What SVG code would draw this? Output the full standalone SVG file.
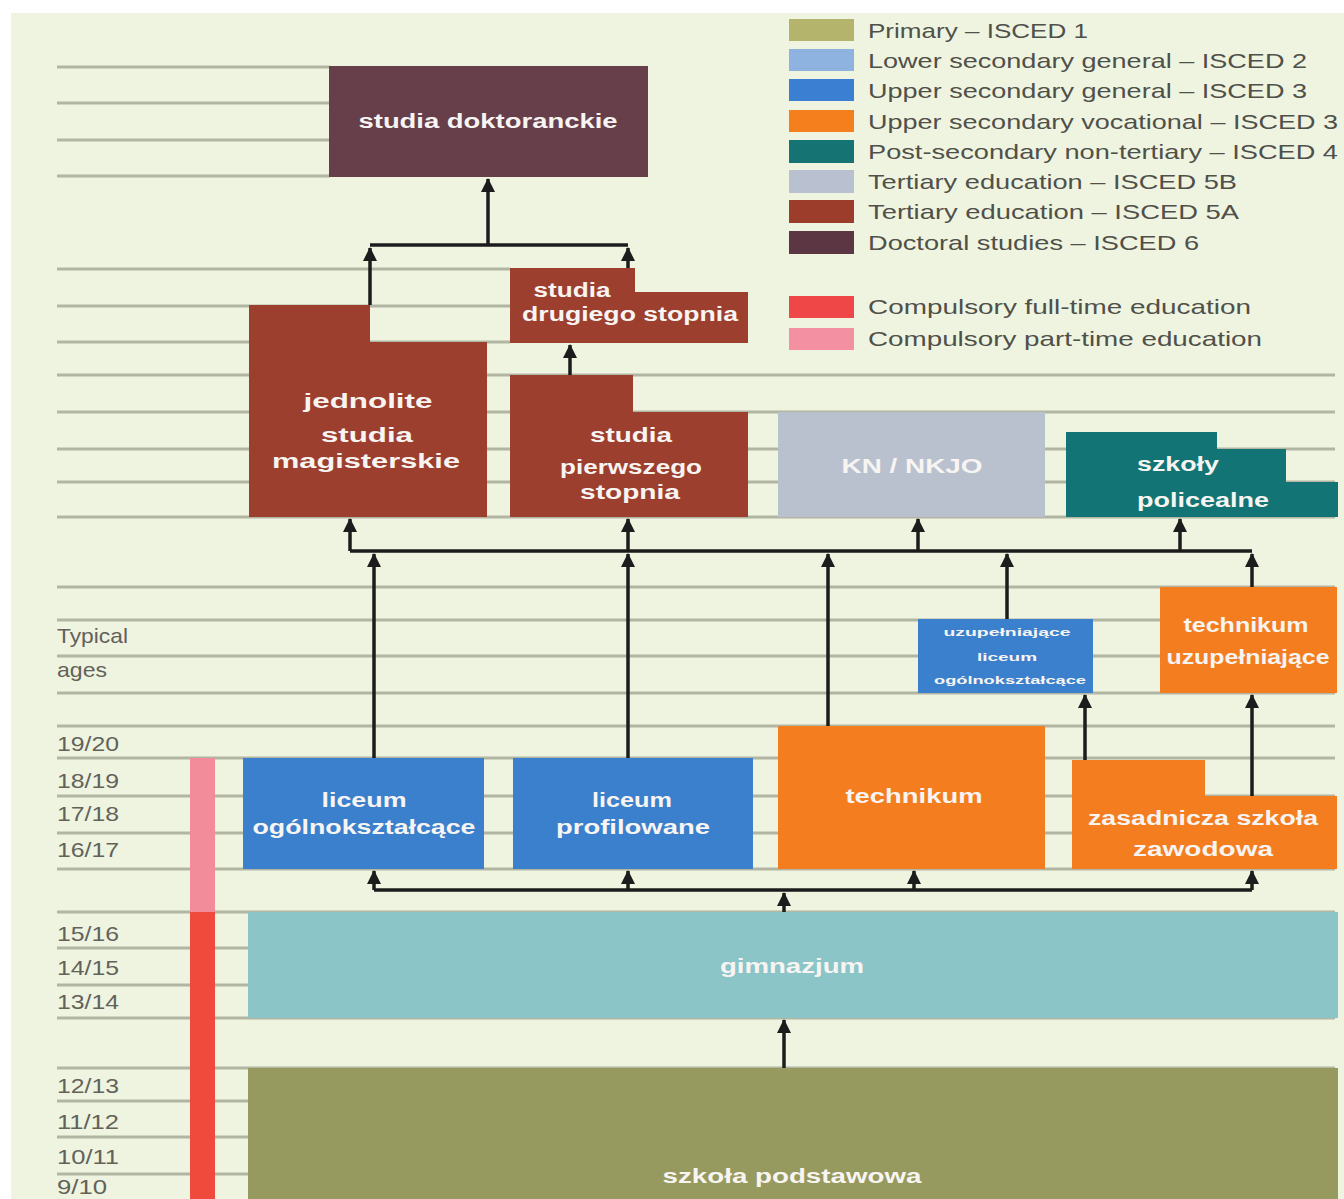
<svg xmlns="http://www.w3.org/2000/svg" width="1344" height="1199" viewBox="0 0 1344 1199">
<style>
.grid{stroke:#b2b5a2;stroke-width:3;fill:none}
.conn{stroke:#1c1c1c;stroke-width:3.5;fill:none}
.arr{marker-end:url(#ah)}
.nt{font-family:"Liberation Sans",Arial,sans-serif;font-weight:bold;font-size:20px;fill:#f7f4f2;text-anchor:middle}
.sm{font-size:11px}
.lg{font-family:"Liberation Sans",Arial,sans-serif;font-size:21px;fill:#50504a}
.age{font-family:"Liberation Sans",Arial,sans-serif;font-size:21px;fill:#62625a}
.t5a{fill:#9d3f2e}
.gen{fill:#3b80cd}
.voc{fill:#f47d1f}
</style>
<defs>
<marker id="ah" markerUnits="userSpaceOnUse" markerWidth="14" markerHeight="14" refX="13" refY="7" orient="auto">
<path d="M0,0 L14,7 L0,14 z" fill="#1c1c1c"/>
</marker>
</defs>
<rect x="0" y="0" width="1344" height="1199" fill="#ffffff"/>
<rect x="11" y="13" width="1333" height="1186" fill="#eff4e0"/>

<g id="grid">
<path class="grid" d="M57,67H330M57,103H330M57,140H330M57,176H330"/>
<path class="grid" d="M57,269H510M57,306H510M57,342H510"/>
<path class="grid" d="M57,375H1335M57,412H1335M57,449H1335M57,482H1335M57,517H1335"/>
<path class="grid" d="M57,587H1335M57,620H1335M57,656H1335M57,693H1335M57,726H1335M57,758H1335M57,796H1335M57,833H1335M57,869H1335"/>
<path class="grid" d="M57,912H1335M57,948H1335M57,985H1335M57,1018H1335M57,1068H1335M57,1101H1335M57,1137H1335M57,1174H1335"/>
</g>

<g id="compulsory-bars">
<rect x="190" y="758" width="25" height="154" fill="#f28c9a"/>
<rect x="190" y="912" width="25" height="287" fill="#f04a3c"/>
</g>

<g id="ages">
<text class="age" x="57" y="643" textLength="71" lengthAdjust="spacingAndGlyphs">Typical</text>
<text class="age" x="57" y="677" textLength="50" lengthAdjust="spacingAndGlyphs">ages</text>
<text class="age" x="57" y="751" textLength="62" lengthAdjust="spacingAndGlyphs">19/20</text>
<text class="age" x="57" y="788" textLength="62" lengthAdjust="spacingAndGlyphs">18/19</text>
<text class="age" x="57" y="821" textLength="62" lengthAdjust="spacingAndGlyphs">17/18</text>
<text class="age" x="57" y="857" textLength="62" lengthAdjust="spacingAndGlyphs">16/17</text>
<text class="age" x="57" y="941" textLength="62" lengthAdjust="spacingAndGlyphs">15/16</text>
<text class="age" x="57" y="975" textLength="62" lengthAdjust="spacingAndGlyphs">14/15</text>
<text class="age" x="57" y="1009" textLength="62" lengthAdjust="spacingAndGlyphs">13/14</text>
<text class="age" x="57" y="1093" textLength="62" lengthAdjust="spacingAndGlyphs">12/13</text>
<text class="age" x="57" y="1129" textLength="62" lengthAdjust="spacingAndGlyphs">11/12</text>
<text class="age" x="57" y="1164" textLength="62" lengthAdjust="spacingAndGlyphs">10/11</text>
<text class="age" x="57" y="1194" textLength="50" lengthAdjust="spacingAndGlyphs">9/10</text>
</g>

<g id="legend">
<rect x="789" y="19" width="65" height="22" fill="#b4b46c"/>
<rect x="789" y="49" width="65" height="22" fill="#8fb3e1"/>
<rect x="789" y="79" width="65" height="22" fill="#3a7fd2"/>
<rect x="789" y="110" width="65" height="22" fill="#f57f1c"/>
<rect x="789" y="140" width="65" height="23" fill="#157373"/>
<rect x="789" y="170" width="65" height="23" fill="#b9c1d0"/>
<rect x="789" y="200" width="65" height="23" fill="#9c3c2b"/>
<rect x="789" y="231" width="65" height="23" fill="#5c3642"/>
<rect x="789" y="296" width="65" height="22" fill="#ef4747"/>
<rect x="789" y="328" width="65" height="22" fill="#f390a2"/>
<text class="lg" x="868" y="38" textLength="220" lengthAdjust="spacingAndGlyphs">Primary – ISCED 1</text>
<text class="lg" x="868" y="68" textLength="439" lengthAdjust="spacingAndGlyphs">Lower secondary general – ISCED 2</text>
<text class="lg" x="868" y="98" textLength="439" lengthAdjust="spacingAndGlyphs">Upper secondary general – ISCED 3</text>
<text class="lg" x="868" y="129" textLength="470" lengthAdjust="spacingAndGlyphs">Upper secondary vocational – ISCED 3</text>
<text class="lg" x="868" y="159" textLength="470" lengthAdjust="spacingAndGlyphs">Post-secondary non-tertiary – ISCED 4</text>
<text class="lg" x="868" y="189" textLength="369" lengthAdjust="spacingAndGlyphs">Tertiary education – ISCED 5B</text>
<text class="lg" x="868" y="219" textLength="371" lengthAdjust="spacingAndGlyphs">Tertiary education – ISCED 5A</text>
<text class="lg" x="868" y="250" textLength="331" lengthAdjust="spacingAndGlyphs">Doctoral studies – ISCED 6</text>
<text class="lg" x="868" y="314" textLength="383" lengthAdjust="spacingAndGlyphs">Compulsory full-time education</text>
<text class="lg" x="868" y="346" textLength="394" lengthAdjust="spacingAndGlyphs">Compulsory part-time education</text>
</g>

<g id="connectors">
<path class="conn" d="M370,245H628"/>
<path class="conn arr" d="M370,305V248"/>
<path class="conn arr" d="M628,268V248"/>
<path class="conn arr" d="M488,245V179"/>
<path class="conn arr" d="M570,375V345"/>
<path class="conn" d="M350,551H1252"/>
<path class="conn arr" d="M350,551V519"/>
<path class="conn arr" d="M628,551V519"/>
<path class="conn arr" d="M918,551V519"/>
<path class="conn arr" d="M1180,551V519"/>
<path class="conn arr" d="M374,758V554"/>
<path class="conn arr" d="M628,758V554"/>
<path class="conn arr" d="M828,726V554"/>
<path class="conn arr" d="M1007,619V554"/>
<path class="conn arr" d="M1252,587V554"/>
<path class="conn arr" d="M1085,760V695"/>
<path class="conn arr" d="M1252,796V695"/>
<path class="conn" d="M374,890H1252"/>
<path class="conn arr" d="M374,890V871"/>
<path class="conn arr" d="M628,890V871"/>
<path class="conn arr" d="M914,890V871"/>
<path class="conn arr" d="M1252,890V871"/>
<path class="conn arr" d="M784,912V893"/>
<path class="conn arr" d="M784,1068V1020"/>
</g>

<g id="studia-doktoranckie">
<rect x="329" y="66" width="319" height="111" fill="#673f4a"/>
<text class="nt" x="488" y="128" textLength="259" lengthAdjust="spacingAndGlyphs">studia doktoranckie</text>
</g>

<g id="studia-drugiego-stopnia">
<polygon class="t5a" points="510,268 635,268 635,292 748,292 748,343 510,343"/>
<text class="nt" x="572" y="297" textLength="77" lengthAdjust="spacingAndGlyphs">studia</text>
<text class="nt" x="630" y="321" textLength="216" lengthAdjust="spacingAndGlyphs">drugiego stopnia</text>
</g>

<g id="jednolite-studia-magisterskie">
<polygon class="t5a" points="249,305 370,305 370,342 487,342 487,517 249,517"/>
<text class="nt" x="368" y="408" textLength="129" lengthAdjust="spacingAndGlyphs">jednolite</text>
<text class="nt" x="367" y="442" textLength="92" lengthAdjust="spacingAndGlyphs">studia</text>
<text class="nt" x="366" y="468" textLength="188" lengthAdjust="spacingAndGlyphs">magisterskie</text>
</g>

<g id="studia-pierwszego-stopnia">
<polygon class="t5a" points="510,375 633,375 633,412 748,412 748,517 510,517"/>
<text class="nt" x="631" y="442" textLength="82" lengthAdjust="spacingAndGlyphs">studia</text>
<text class="nt" x="631" y="474" textLength="142" lengthAdjust="spacingAndGlyphs">pierwszego</text>
<text class="nt" x="630" y="499" textLength="100" lengthAdjust="spacingAndGlyphs">stopnia</text>
</g>

<g id="kn-nkjo">
<rect x="778" y="412" width="267" height="105" fill="#b9c1cf"/>
<text class="nt" x="912" y="473" textLength="141" lengthAdjust="spacingAndGlyphs">KN / NKJO</text>
</g>

<g id="szkoly-policealne">
<polygon fill="#127474" points="1066,432 1217,432 1217,449 1286,449 1286,482 1338,482 1338,517 1066,517"/>
<text class="nt" x="1178" y="471" textLength="82" lengthAdjust="spacingAndGlyphs">szkoły</text>
<text class="nt" x="1203" y="507" textLength="132" lengthAdjust="spacingAndGlyphs">policealne</text>
</g>

<g id="uzupelniajace-liceum">
<rect class="gen" x="918" y="619" width="175" height="74"/>
<text class="nt sm" x="1007" y="636" textLength="127" lengthAdjust="spacingAndGlyphs">uzupełniające</text>
<text class="nt sm" x="1007" y="661" textLength="60" lengthAdjust="spacingAndGlyphs">liceum</text>
<text class="nt sm" x="1010" y="684" textLength="152" lengthAdjust="spacingAndGlyphs">ogólnokształcące</text>
</g>

<g id="technikum-uzupelniajace">
<rect class="voc" x="1160" y="587" width="177" height="106"/>
<text class="nt" x="1246" y="632" textLength="125" lengthAdjust="spacingAndGlyphs">technikum</text>
<text class="nt" x="1248" y="664" textLength="163" lengthAdjust="spacingAndGlyphs">uzupełniające</text>
</g>

<g id="liceum-ogolnoksztalcace">
<rect class="gen" x="243" y="758" width="241" height="111"/>
<text class="nt" x="364" y="807" textLength="85" lengthAdjust="spacingAndGlyphs">liceum</text>
<text class="nt" x="364" y="834" textLength="223" lengthAdjust="spacingAndGlyphs">ogólnokształcące</text>
</g>

<g id="liceum-profilowane">
<rect class="gen" x="513" y="758" width="240" height="111"/>
<text class="nt" x="632" y="807" textLength="80" lengthAdjust="spacingAndGlyphs">liceum</text>
<text class="nt" x="633" y="834" textLength="154" lengthAdjust="spacingAndGlyphs">profilowane</text>
</g>

<g id="technikum">
<rect class="voc" x="778" y="726" width="267" height="143"/>
<text class="nt" x="914" y="803" textLength="137" lengthAdjust="spacingAndGlyphs">technikum</text>
</g>

<g id="zasadnicza-szkola-zawodowa">
<polygon class="voc" points="1072,760 1205,760 1205,796 1337,796 1337,869 1072,869"/>
<text class="nt" x="1203" y="825" textLength="230" lengthAdjust="spacingAndGlyphs">zasadnicza szkoła</text>
<text class="nt" x="1203" y="856" textLength="140" lengthAdjust="spacingAndGlyphs">zawodowa</text>
</g>

<g id="gimnazjum">
<rect x="248" y="912" width="1090" height="106" fill="#8bc5c8"/>
<text class="nt" x="792" y="973" textLength="144" lengthAdjust="spacingAndGlyphs">gimnazjum</text>
</g>

<g id="szkola-podstawowa">
<rect x="248" y="1068" width="1090" height="131" fill="#969a5e"/>
<text class="nt" x="792" y="1183" textLength="259" lengthAdjust="spacingAndGlyphs">szkoła podstawowa</text>
</g>
</svg>
